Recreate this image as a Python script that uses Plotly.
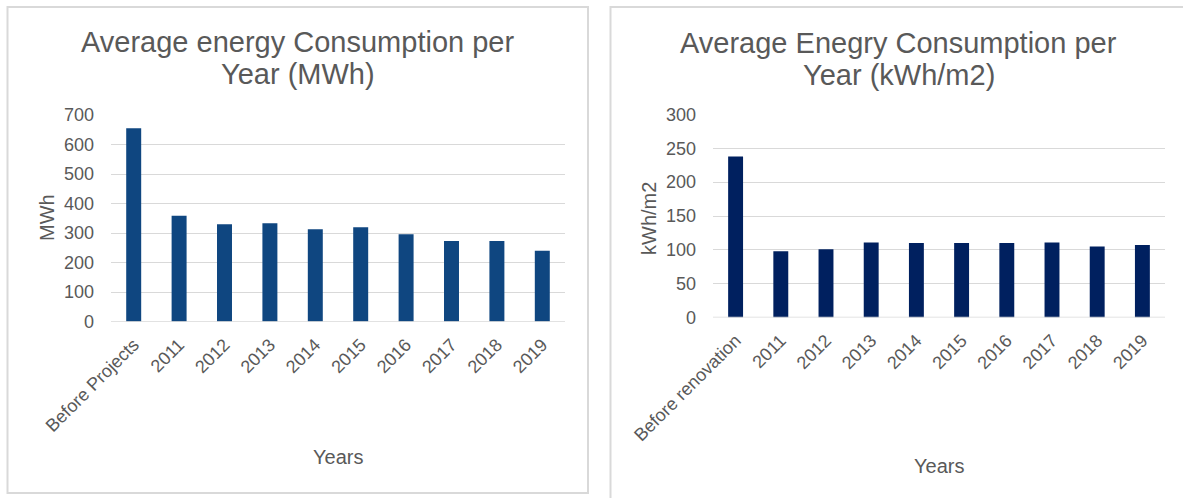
import plotly.graph_objects as go

W, H = 1183, 498

# Left chart: total energy use
left_categories = ["Before Projects", "2011", "2012", "2013", "2014",
                   "2015", "2016", "2017", "2018", "2019"]
left_values = [655, 359, 330, 333, 313, 320, 296, 273, 273, 240]

# Right chart: energy use per floor area
right_categories = ["Before renovation", "2011", "2012", "2013", "2014",
                    "2015", "2016", "2017", "2018", "2019"]
right_values = [238, 98, 101, 111, 110, 110, 110, 111, 105, 107]

FONT = "Liberation Sans, Arial, sans-serif"
GRAY = "#595959"
GRID = "#D9D9D9"


def px_x(p):
    return p / W


def px_y(p):
    return 1 - p / H


fig = go.Figure()
fig.add_trace(go.Bar(x=left_categories, y=left_values, marker_color="#0F4680",
                     marker_line_width=0, xaxis="x", yaxis="y", hoverinfo="x+y"))
fig.add_trace(go.Bar(x=right_categories, y=right_values, marker_color="#00205F",
                     marker_line_width=0, xaxis="x2", yaxis="y2", hoverinfo="x+y"))

axis_common = dict(showline=False, zeroline=False, ticks="", automargin=False,
                   tickfont=dict(family=FONT, size=18, color=GRAY))

fig.update_layout(
    width=W, height=H,
    autosize=False,
    margin=dict(l=0, r=0, t=0, b=0, pad=0, autoexpand=False),
    paper_bgcolor="white", plot_bgcolor="white",
    showlegend=False,
    bargap=0.67,
    xaxis=dict(domain=[px_x(111), px_x(565)], anchor="y", tickangle=-45,
               showgrid=False, type="category", ticklabelstandoff=8,
               **axis_common),
    yaxis=dict(domain=[px_y(321.7), px_y(115)], anchor="x", range=[0, 700],
               dtick=100, showgrid=True, gridcolor=GRID, gridwidth=1.3,
               ticklabelstandoff=16, **axis_common),
    xaxis2=dict(domain=[px_x(713), px_x(1165)], anchor="y2", tickangle=-45,
                showgrid=False, type="category", ticklabelstandoff=8,
                **axis_common),
    yaxis2=dict(domain=[px_y(317.5), px_y(114.5)], anchor="x2", range=[0, 300],
                dtick=50, showgrid=True, gridcolor=GRID, gridwidth=1.3,
                ticklabelstandoff=16, **axis_common),
)

# Panel frames
fig.add_shape(type="rect", xref="paper", yref="paper",
              x0=px_x(7.5), x1=px_x(588), y0=px_y(493), y1=px_y(7),
              line=dict(color=GRID, width=2), fillcolor="rgba(0,0,0,0)")
fig.add_shape(type="rect", xref="paper", yref="paper",
              x0=px_x(610.5), x1=px_x(1195), y0=px_y(510), y1=px_y(7),
              line=dict(color=GRID, width=2), fillcolor="rgba(0,0,0,0)")

# Baselines at zero
for xr, yr in (("x domain", "y"), ("x2 domain", "y2")):
    fig.add_shape(type="line", xref=xr, yref=yr, x0=0, x1=1, y0=0, y1=0,
                  line=dict(color=GRID, width=1.3))


def text(x, y, s, size, angle=0):
    fig.add_annotation(x=px_x(x), y=px_y(y), xref="paper", yref="paper",
                       text=s, showarrow=False, textangle=angle,
                       xanchor="center", yanchor="middle",
                       font=dict(family=FONT, size=size, color=GRAY))


# Titles
text(297.5, 42, "Average energy Consumption per", 29)
text(297.5, 74, "Year (MWh)", 29)
text(899, 43, "Average Enegry Consumption per", 29)
text(899, 75, "Year (kWh/m2)", 29)

# Axis titles
text(47, 218, "MWh", 20, -90)
text(338, 457, "Years", 20)
text(649, 218, "kWh/m2", 20, -90)
text(939, 466, "Years", 20)

fig.write_html("out.html")
